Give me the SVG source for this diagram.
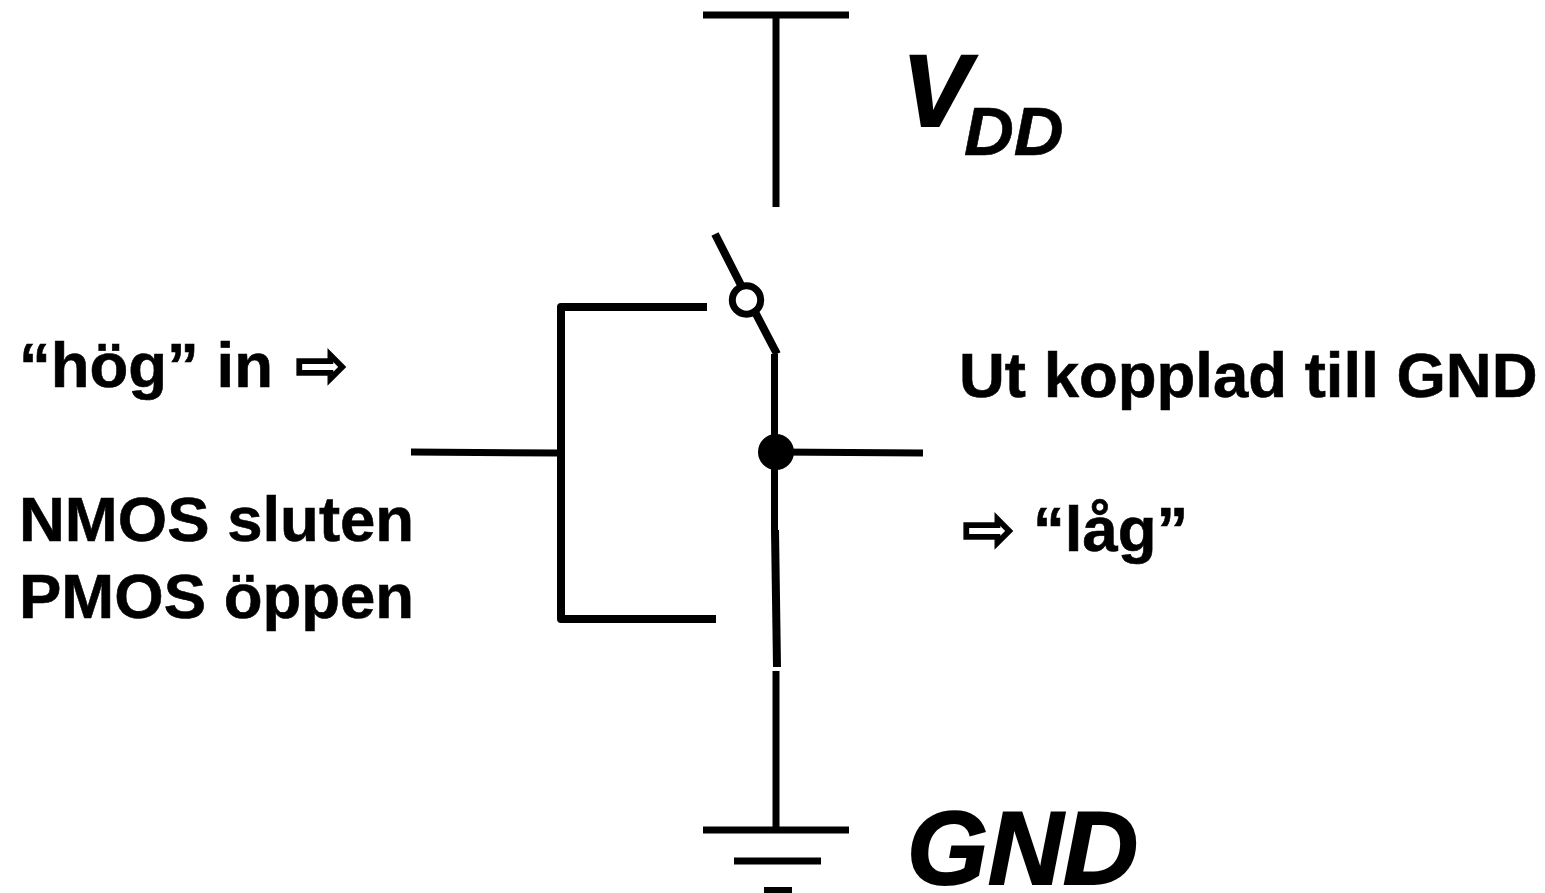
<svg xmlns="http://www.w3.org/2000/svg" width="1545" height="893" viewBox="0 0 1545 893">
<style>
.w{fill:none;stroke:#000;stroke-width:7;stroke-linejoin:round}
.s{stroke-width:8}
.t{font-family:"Liberation Sans",Arial,sans-serif;font-weight:bold;fill:#000;font-size:63.5px;stroke:#000;stroke-width:.6}
.i{font-style:italic}
.b{stroke-width:2}
.a{font-family:"DejaVu Sans",sans-serif;font-weight:bold;fill:#000;font-size:64px;stroke:#000;stroke-width:1.4}
</style>
<rect width="1545" height="893" fill="#fff"/>
<g id="connectors">
<path class="w" d="M703 15H849M776 15V207"/>
<path class="w s" d="M715 234L745 293M755 312L777 354"/>
<path class="w" d="M774.500 354V530M776 671V830"/>
<path class="w s" d="M775 530L777 667"/>
<path class="w s" d="M707 307H561V619H716"/>
<path class="w" d="M411 452L558 453M776 452L923 453"/>
<path class="w" d="M703 830H849M734 861H821"/>
<path class="w s" d="M764 891H792"/>
</g>
<g id="bubble"><circle cx="746.500" cy="300" r="14.200" fill="#fff" stroke="#000" stroke-width="7"/></g>
<g id="dot"><circle cx="776" cy="452" r="18" fill="#000"/></g>
<g id="labels">
<text class="t i b" x="902" y="126" style="font-size:102px">V</text>
<text class="t i" x="964" y="155" style="font-size:69px">DD</text>
<text class="t i b" x="907" y="884" style="font-size:104px">GND</text>
<text class="t" x="19" y="387">“hög” in</text>
<text class="a" x="295" y="387">⇨</text>
<text class="t" x="19" y="541">NMOS sluten</text>
<text class="t" x="19" y="618">PMOS öppen</text>
<text class="t" x="959" y="396.500">Ut kopplad till GND</text>
<text class="a" x="962" y="551">⇨</text>
<text class="t" x="1033" y="551">“låg”</text>
</g>
</svg>
